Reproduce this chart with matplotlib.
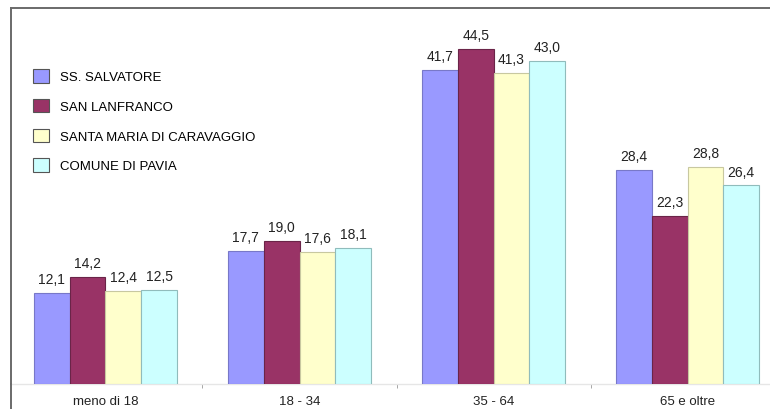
import matplotlib
matplotlib.use("Agg")
import matplotlib.pyplot as plt
from matplotlib.lines import Line2D
from matplotlib.patches import Patch
from matplotlib import font_manager
import numpy as np

categories = ["meno di 18", "18 - 34", "35 - 64", "65 e oltre"]
series_names = ["SS. SALVATORE", "SAN LANFRANCO", "SANTA MARIA DI CARAVAGGIO", "COMUNE DI PAVIA"]
ss_salvatore = [12.1, 17.7, 41.7, 28.4]
san_lanfranco = [14.2, 19.0, 44.5, 22.3]
santa_maria = [12.4, 17.6, 41.3, 28.8]
comune_pavia = [12.5, 18.1, 43.0, 26.4]
series_values = [ss_salvatore, san_lanfranco, santa_maria, comune_pavia]
colors = ["#9999FF", "#993366", "#FFFFCC", "#CCFFFF"]
edges = ["#7878c8", "#6a2448", "#c8c8a0", "#90bcbc"]

names = {f.name for f in font_manager.fontManager.ttflist}
fam = "Liberation Sans Narrow" if "Liberation Sans Narrow" in names else "Liberation Sans"
plt.rcParams["font.family"] = [fam, "DejaVu Sans"]

W, H = 770, 410
fig = plt.figure(figsize=(W / 100, H / 100), dpi=100)
left, top, bottom, right = 11, 9, 385, 770
ax = fig.add_axes([left / W, (H - bottom) / H, (right - left) / W, (bottom - top) / H])

x = np.arange(len(categories))
bw = 0.1845
for i, (vals, c, ec) in enumerate(zip(series_values, colors, edges)):
    pos = x + (i - 1.5) * bw
    ax.bar(pos, vals, width=bw, color=c, edgecolor=ec, linewidth=0.8, zorder=3)
    for p, v in zip(pos, vals):
        ax.annotate(f"{v:.1f}".replace(".", ","), (p, v), xytext=(0, 5),
                    textcoords="offset points", ha="center", va="bottom",
                    fontsize=10, color="#222222")

ax.set_xlim(-0.487, 3.425)
ax.set_ylim(0, 50)
ax.set_yticks([])
ax.set_xticks(x)
ax.set_xticklabels(categories, fontsize=9.5, color="#222222")
ax.tick_params(axis="x", length=0, pad=8)
ax.set_xticks([0.5, 1.5, 2.5], minor=True)
ax.tick_params(axis="x", which="minor", length=3, color="#999999", direction="out")

for s in ["top", "left"]:
    ax.spines[s].set_color("#6a6a6a")
    ax.spines[s].set_linewidth(1.4)
ax.spines["right"].set_visible(False)
ax.spines["bottom"].set_color("#e6e6e6")
ax.spines["bottom"].set_linewidth(1.0)

# left border continues to the bottom edge of the figure
fig.add_artist(Line2D([left / W, left / W], [0, (H - bottom) / H], color="#6a6a6a",
                      linewidth=1.4, transform=fig.transFigure))

handles = [Patch(facecolor=c, edgecolor="#555555", linewidth=0.8) for c in colors]
ax.legend(handles, series_names, loc="upper left",
          bbox_to_anchor=((28 - left) / (right - left), 1 - (65 - top) / (bottom - top)),
          frameon=False, fontsize=9.5, handlelength=1.2, handleheight=1.2,
          labelspacing=1.17, handletextpad=0.8, borderaxespad=0)

fig.savefig("out.png", dpi=100)
